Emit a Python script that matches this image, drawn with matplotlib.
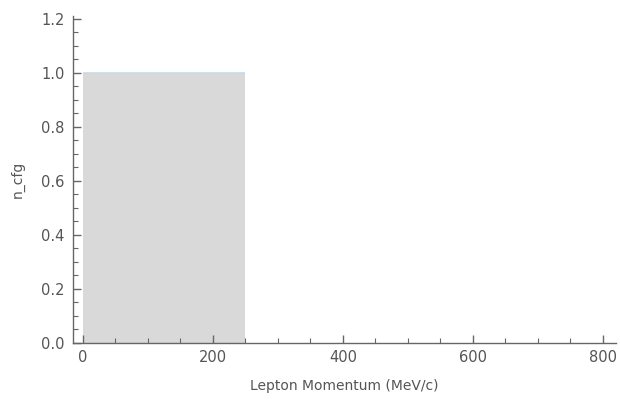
import matplotlib
matplotlib.use("Agg")
import matplotlib.pyplot as plt
from matplotlib.ticker import MultipleLocator, FormatStrFormatter

bin_edges = [0, 250]
counts = [1.0]
xlabel = "Lepton Momentum (MeV/c)"
ylabel = "n_cfg"

fig = plt.figure(figsize=(6.2, 4.04), dpi=100)
ax = fig.add_axes([73/620, (404-343)/404, (616-73)/620, (343-16)/404])

ax.stairs(counts, bin_edges, fill=True, facecolor="#d9d9d9", edgecolor="none")
ax.stairs(counts, bin_edges, fill=False, edgecolor="#c5dbea", linewidth=1.2, baseline=None)

ax.set_xlim(-15, 820)
ax.set_ylim(0, 1.21)
ax.xaxis.set_major_locator(MultipleLocator(200))
ax.xaxis.set_minor_locator(MultipleLocator(50))
ax.yaxis.set_major_locator(MultipleLocator(0.2))
ax.yaxis.set_minor_locator(MultipleLocator(0.05))
ax.yaxis.set_major_formatter(FormatStrFormatter("%.1f"))

for s in ["top", "right"]:
    ax.spines[s].set_visible(False)
for s in ["left", "bottom"]:
    ax.spines[s].set_color("#666666")
    ax.spines[s].set_linewidth(1.0)

ax.tick_params(which="both", direction="in", colors="#666666", labelcolor="#555555", labelsize=10.5)
ax.tick_params(which="major", length=6, width=1.0)
ax.tick_params(which="minor", length=3.5, width=0.8)
ax.tick_params(axis="x", pad=5)
ax.tick_params(axis="y", pad=6)

ax.set_xlabel(xlabel, fontsize=10, color="#555555", labelpad=10)
ax.set_ylabel(ylabel, fontsize=10, color="#555555", labelpad=12)

fig.savefig("out.png", dpi=100)
